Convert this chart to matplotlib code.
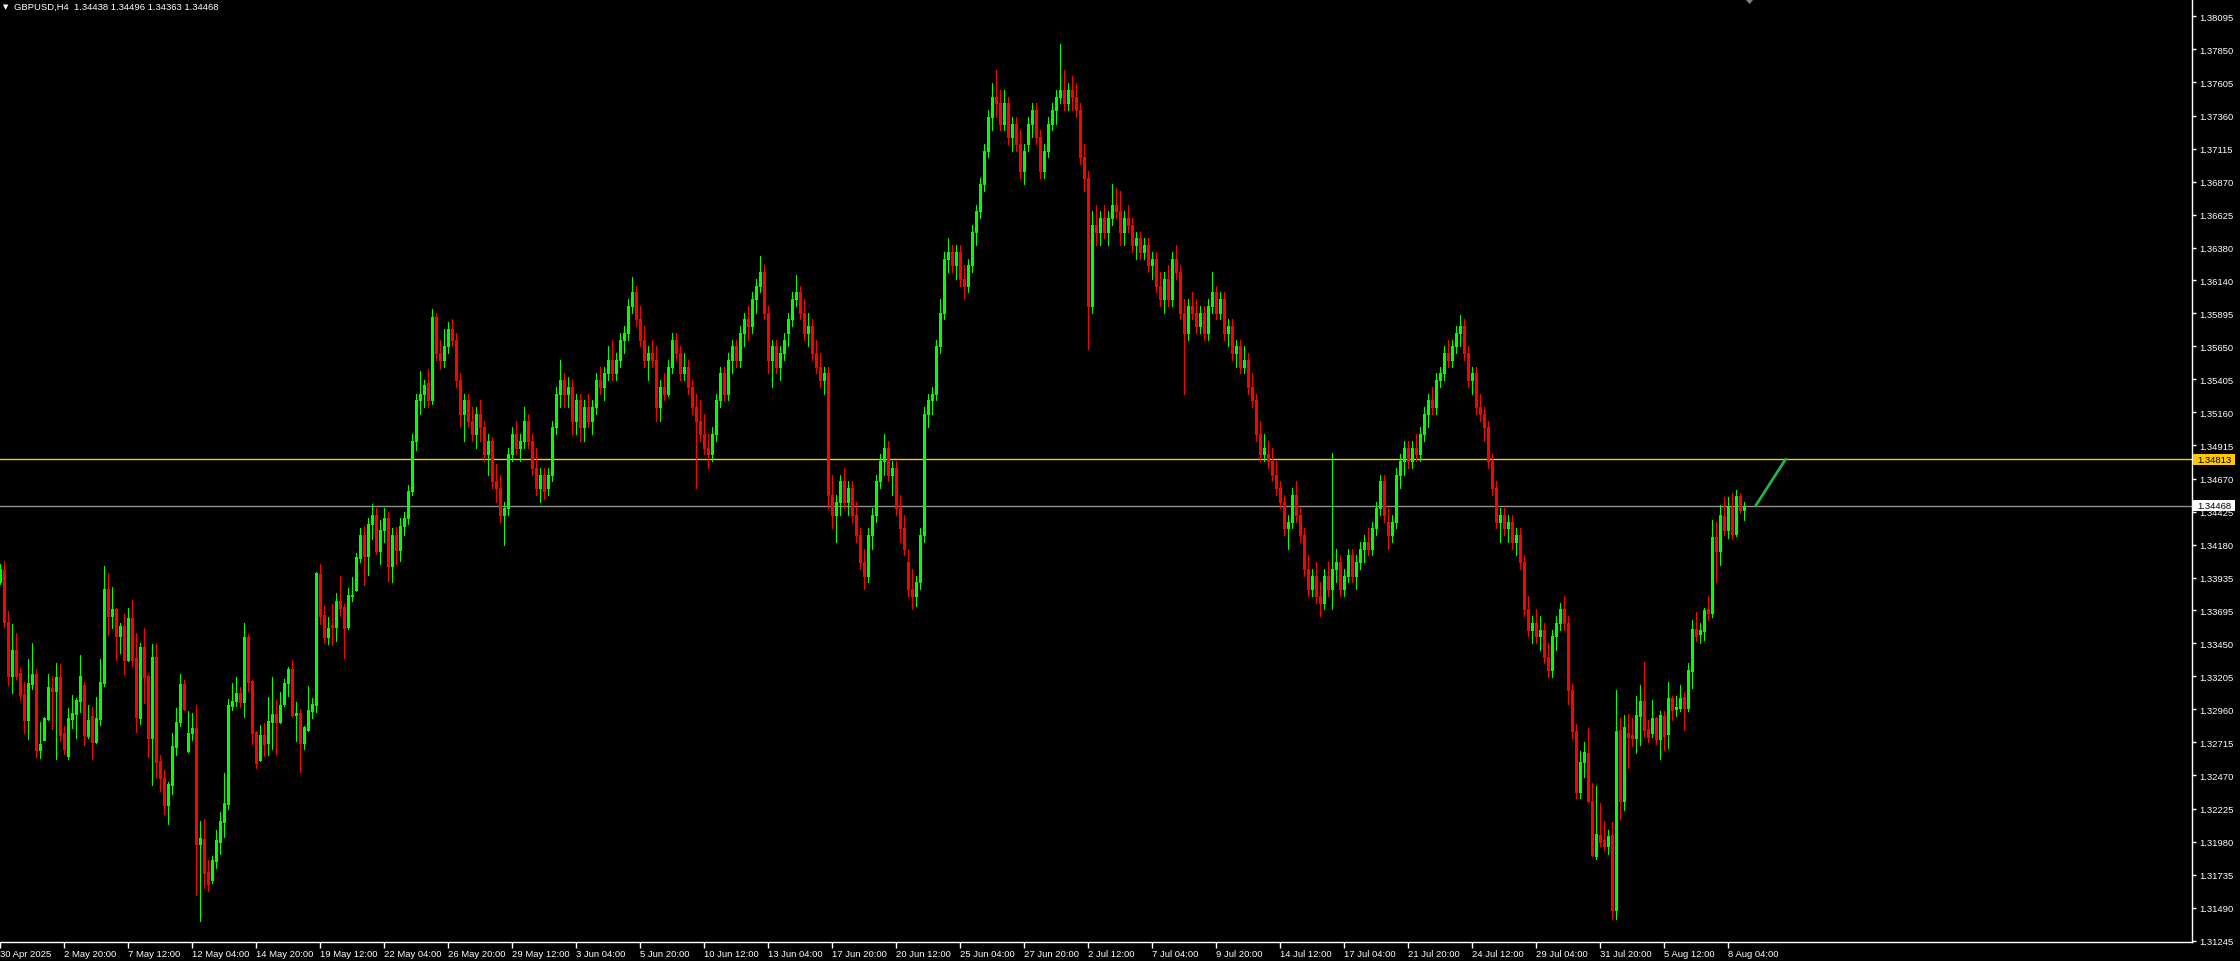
import matplotlib
matplotlib.use("Agg")
import matplotlib.pyplot as plt
from matplotlib.collections import LineCollection
from matplotlib.patches import Rectangle, Polygon

# ---------------- data ----------------
title_text = "GBPUSD,H4  1.34438 1.34496 1.34363 1.34468"

opens = [
 1.33906, 1.33992, 1.33605, 1.33209, 1.33400, 1.33229, 1.33074, 1.32881, 1.33150, 1.33222,
 1.32659, 1.32733, 1.32888, 1.33118, 1.33098, 1.33200, 1.32785, 1.32614, 1.32891, 1.32928,
 1.33022, 1.33140, 1.32765, 1.32911, 1.32718, 1.32888, 1.33158, 1.33852, 1.33652, 1.33703,
 1.33503, 1.33577, 1.33325, 1.33637, 1.33340, 1.32896, 1.33422, 1.33207, 1.32748, 1.33348,
 1.32577, 1.32451, 1.32251, 1.32400, 1.32681, 1.32866, 1.33148, 1.32651, 1.32785, 1.32822,
 1.31962, 1.31999, 1.31755, 1.31695, 1.31836, 1.31977, 1.32125, 1.32259, 1.32985, 1.33022,
 1.33081, 1.33014, 1.33496, 1.33170, 1.32792, 1.32584, 1.32770, 1.32710, 1.32866, 1.32925,
 1.32866, 1.32999, 1.33155, 1.33259, 1.32918, 1.32933, 1.32710, 1.32807, 1.32948, 1.32992,
 1.33963, 1.33659, 1.33496, 1.33585, 1.33570, 1.33763, 1.33718, 1.33570, 1.33800, 1.33844,
 1.34081, 1.34250, 1.34096, 1.34330, 1.34400, 1.34133, 1.34290, 1.34380, 1.34022, 1.34250,
 1.34141, 1.34320, 1.34380, 1.34580, 1.34950, 1.35250, 1.35300, 1.35380, 1.35250, 1.35870,
 1.35600, 1.35550, 1.35650, 1.35780, 1.35700, 1.35400, 1.35150, 1.35250, 1.35100, 1.35000,
 1.35150, 1.35050, 1.34850, 1.34950, 1.34650, 1.34600, 1.34400, 1.34450, 1.34850, 1.35000,
 1.34900, 1.34950, 1.35100, 1.34950, 1.34750, 1.34600, 1.34700, 1.34600, 1.34700, 1.35050,
 1.35300, 1.35400, 1.35300, 1.35350, 1.35100, 1.35250, 1.35050, 1.35200, 1.35100, 1.35200,
 1.35400, 1.35350, 1.35450, 1.35550, 1.35450, 1.35550, 1.35700, 1.35750, 1.35950, 1.36050,
 1.35850, 1.35700, 1.35550, 1.35600, 1.35550, 1.35200, 1.35350, 1.35300, 1.35500, 1.35700,
 1.35600, 1.35450, 1.35500, 1.35350, 1.35200, 1.35100, 1.35000, 1.34900, 1.34850, 1.35000,
 1.35250, 1.35450, 1.35300, 1.35550, 1.35650, 1.35550, 1.35750, 1.35850, 1.35800, 1.36000,
 1.36100, 1.36200, 1.35900, 1.35550, 1.35650, 1.35500, 1.35600, 1.35750, 1.35850, 1.36000,
 1.36050, 1.35900, 1.35750, 1.35800, 1.35600, 1.35500, 1.35400, 1.35450, 1.34550, 1.34400,
 1.34500, 1.34650, 1.34500, 1.34600, 1.34400, 1.34250, 1.34050, 1.33950, 1.34250, 1.34400,
 1.34650, 1.34800, 1.34900, 1.34700, 1.34750, 1.34450, 1.34300, 1.34050, 1.33850, 1.33800,
 1.33900, 1.34250, 1.35150, 1.35250, 1.35300, 1.35650, 1.35900, 1.36300, 1.36350, 1.36250,
 1.36350, 1.36150, 1.36100, 1.36250, 1.36500, 1.36650, 1.36850, 1.37100, 1.37350, 1.37500,
 1.37450, 1.37300, 1.37450, 1.37200, 1.37300, 1.37150, 1.36950, 1.37150, 1.37300, 1.37400,
 1.37200, 1.36950, 1.37100, 1.37300, 1.37400, 1.37500, 1.37550, 1.37450, 1.37550, 1.37500,
 1.37400, 1.37050, 1.36900, 1.35950, 1.36550, 1.36500, 1.36600, 1.36500, 1.36600, 1.36700,
 1.36650, 1.36500, 1.36600, 1.36550, 1.36400, 1.36450, 1.36350, 1.36400, 1.36250, 1.36300,
 1.36100, 1.36000, 1.36150, 1.36000, 1.36300, 1.36200, 1.35900, 1.35750, 1.35950, 1.35900,
 1.35800, 1.35900, 1.35750, 1.35950, 1.36050, 1.35900, 1.36000, 1.35750, 1.35800, 1.35600,
 1.35650, 1.35500, 1.35550, 1.35350, 1.35250, 1.35000, 1.34850, 1.34850, 1.34800, 1.34700,
 1.34600, 1.34500, 1.34300, 1.34350, 1.34550, 1.34400, 1.34250, 1.34000, 1.33850, 1.33950,
 1.33800, 1.33750, 1.33950, 1.33850, 1.34000, 1.34050, 1.33850, 1.33950, 1.34100, 1.33950,
 1.34050, 1.34150, 1.34200, 1.34150, 1.34300, 1.34450, 1.34650, 1.34350, 1.34250, 1.34350,
 1.34700, 1.34800, 1.34900, 1.34800, 1.34900, 1.34850, 1.35000, 1.35150, 1.35250, 1.35200,
 1.35400, 1.35450, 1.35600, 1.35550, 1.35650, 1.35750, 1.35800, 1.35600, 1.35400, 1.35450,
 1.35200, 1.35150, 1.35050, 1.34800, 1.34600, 1.34350, 1.34400, 1.34300, 1.34350, 1.34200,
 1.34250, 1.34050, 1.33700, 1.33550, 1.33600, 1.33500, 1.33550, 1.33350, 1.33250, 1.33500,
 1.33600, 1.33700, 1.33600, 1.33100, 1.32800, 1.32350, 1.32572, 1.32636, 1.32283, 1.31875,
 1.32028, 1.31991, 1.31949, 1.32028, 1.31475, 1.32804, 1.32280, 1.32784, 1.32769, 1.32747,
 1.32913, 1.33021, 1.32814, 1.32784, 1.32895, 1.32740, 1.32910, 1.32777, 1.33044, 1.32962,
 1.32970, 1.33051, 1.32970, 1.33244, 1.33555, 1.33518, 1.33540, 1.33703, 1.33674, 1.34240,
 1.34130, 1.34392, 1.34290, 1.34459, 1.34259, 1.34540, 1.34438]

highs = [
 1.34040, 1.34059, 1.33689, 1.33592, 1.33526, 1.33266, 1.33160, 1.33333, 1.33451, 1.33259,
 1.32866, 1.32900, 1.33222, 1.33209, 1.33303, 1.33296, 1.32839, 1.32970, 1.33066, 1.33044,
 1.33363, 1.33160, 1.32992, 1.32977, 1.33051, 1.33333, 1.34022, 1.33970, 1.33866, 1.33710,
 1.33600, 1.33666, 1.33711, 1.33770, 1.33526, 1.33451, 1.33563, 1.33222, 1.33444, 1.33451,
 1.32622, 1.32510, 1.32421, 1.32785, 1.32970, 1.33222, 1.33177, 1.32948, 1.32933, 1.32992,
 1.32132, 1.32147, 1.31843, 1.31873, 1.32066, 1.32199, 1.32488, 1.33036, 1.33155, 1.33200,
 1.33125, 1.33600, 1.33518, 1.33175, 1.32799, 1.32844, 1.32859, 1.33051, 1.33200, 1.33029,
 1.33088, 1.33185, 1.33274, 1.33325, 1.33014, 1.32962, 1.32836, 1.33133, 1.33044, 1.33975,
 1.34037, 1.33726, 1.33644, 1.33740, 1.33822, 1.33948, 1.33740, 1.33859, 1.33941, 1.34118,
 1.34300, 1.34320, 1.34380, 1.34480, 1.34450, 1.34360, 1.34450, 1.34420, 1.34300, 1.34310,
 1.34380, 1.34420, 1.34620, 1.35000, 1.35300, 1.35470, 1.35400, 1.35480, 1.35926, 1.35900,
 1.35700, 1.35780, 1.35830, 1.35850, 1.35750, 1.35450, 1.35300, 1.35300, 1.35200, 1.35200,
 1.35250, 1.35100, 1.35000, 1.34980, 1.34780, 1.34700, 1.34500, 1.34900, 1.35050, 1.35100,
 1.35000, 1.35200, 1.35150, 1.35000, 1.34900, 1.34750, 1.34750, 1.34750, 1.35100, 1.35350,
 1.35550, 1.35450, 1.35420, 1.35400, 1.35300, 1.35300, 1.35250, 1.35300, 1.35250, 1.35450,
 1.35500, 1.35500, 1.35650, 1.35700, 1.35600, 1.35750, 1.35800, 1.36000, 1.36160, 1.36100,
 1.35950, 1.35800, 1.35650, 1.35700, 1.35650, 1.35400, 1.35450, 1.35550, 1.35750, 1.35750,
 1.35650, 1.35600, 1.35550, 1.35400, 1.35300, 1.35250, 1.35150, 1.35000, 1.35050, 1.35300,
 1.35500, 1.35500, 1.35600, 1.35700, 1.35700, 1.35800, 1.35900, 1.35950, 1.36050, 1.36150,
 1.36320, 1.36250, 1.35950, 1.35700, 1.35700, 1.35650, 1.35750, 1.35900, 1.36050, 1.36180,
 1.36100, 1.36000, 1.35900, 1.35850, 1.35700, 1.35600, 1.35500, 1.35500, 1.34700, 1.34550,
 1.34700, 1.34750, 1.34650, 1.34650, 1.34500, 1.34300, 1.34150, 1.34300, 1.34450, 1.34700,
 1.34850, 1.35000, 1.34950, 1.34800, 1.34800, 1.34550, 1.34400, 1.34150, 1.34000, 1.33950,
 1.34300, 1.35200, 1.35300, 1.35350, 1.35700, 1.36000, 1.36350, 1.36450, 1.36400, 1.36400,
 1.36400, 1.36250, 1.36300, 1.36550, 1.36700, 1.36900, 1.37150, 1.37400, 1.37600, 1.37700,
 1.37550, 1.37550, 1.37500, 1.37350, 1.37350, 1.37250, 1.37150, 1.37350, 1.37450, 1.37450,
 1.37250, 1.37150, 1.37350, 1.37450, 1.37550, 1.37890, 1.37700, 1.37600, 1.37650, 1.37600,
 1.37450, 1.37150, 1.36950, 1.36650, 1.36700, 1.36650, 1.36700, 1.36650, 1.36850, 1.36820,
 1.36800, 1.36650, 1.36700, 1.36600, 1.36500, 1.36500, 1.36450, 1.36450, 1.36350, 1.36350,
 1.36200, 1.36200, 1.36250, 1.36350, 1.36400, 1.36250, 1.36000, 1.36000, 1.36050, 1.36000,
 1.35950, 1.35950, 1.36000, 1.36200, 1.36100, 1.36050, 1.36050, 1.35850, 1.35850, 1.35700,
 1.35700, 1.35650, 1.35600, 1.35450, 1.35300, 1.35100, 1.35000, 1.34950, 1.34900, 1.34800,
 1.34650, 1.34550, 1.34400, 1.34600, 1.34650, 1.34450, 1.34300, 1.34100, 1.34000, 1.34050,
 1.33900, 1.34000, 1.34050, 1.34860, 1.34150, 1.34100, 1.34000, 1.34150, 1.34150, 1.34100,
 1.34200, 1.34250, 1.34300, 1.34350, 1.34500, 1.34700, 1.34700, 1.34450, 1.34400, 1.34750,
 1.34850, 1.34950, 1.34950, 1.34950, 1.35000, 1.35050, 1.35200, 1.35300, 1.35350, 1.35450,
 1.35500, 1.35650, 1.35700, 1.35700, 1.35800, 1.35880, 1.35850, 1.35650, 1.35500, 1.35500,
 1.35300, 1.35200, 1.35100, 1.34850, 1.34650, 1.34450, 1.34450, 1.34400, 1.34400, 1.34300,
 1.34300, 1.34100, 1.33800, 1.33650, 1.33700, 1.33650, 1.33600, 1.33450, 1.33550, 1.33650,
 1.33750, 1.33800, 1.33650, 1.33150, 1.32850, 1.32650, 1.32718, 1.32821, 1.32414, 1.32389,
 1.32266, 1.32132, 1.32068, 1.32125, 1.33103, 1.32895, 1.32918, 1.32925, 1.32895, 1.33058,
 1.33140, 1.33310, 1.32878, 1.33029, 1.32900, 1.32947, 1.32947, 1.33162, 1.33058, 1.33058,
 1.33140, 1.33088, 1.33303, 1.33622, 1.33681, 1.33599, 1.33711, 1.33799, 1.34363, 1.34345,
 1.34474, 1.34533, 1.34533, 1.34563, 1.34585, 1.34563, 1.34496]

lows = [
 1.33890, 1.33572, 1.33143, 1.33083, 1.33185, 1.33032, 1.32787, 1.32743, 1.33111, 1.32609,
 1.32599, 1.32730, 1.32880, 1.32814, 1.32592, 1.32723, 1.32631, 1.32592, 1.32822, 1.32748,
 1.32943, 1.32698, 1.32750, 1.32592, 1.32710, 1.32844, 1.33135, 1.33511, 1.33563, 1.33325,
 1.33377, 1.33222, 1.33318, 1.33281, 1.32792, 1.32851, 1.33007, 1.32607, 1.32399, 1.32451,
 1.32355, 1.32184, 1.32110, 1.32333, 1.32622, 1.32836, 1.32955, 1.32645, 1.32733, 1.31584,
 1.31391, 1.31636, 1.31614, 1.31673, 1.31784, 1.31888, 1.32014, 1.32221, 1.32955, 1.32985,
 1.32977, 1.32903, 1.33096, 1.32703, 1.32525, 1.32580, 1.32614, 1.32622, 1.32666, 1.32629,
 1.32860, 1.32985, 1.33059, 1.32903, 1.32725, 1.32496, 1.32666, 1.32799, 1.32896, 1.32940,
 1.33592, 1.33451, 1.33444, 1.33437, 1.33466, 1.33652, 1.33340, 1.33555, 1.33763, 1.33840,
 1.34050, 1.33881, 1.33955, 1.34220, 1.34111, 1.34037, 1.34200, 1.33911, 1.33903, 1.34037,
 1.34059, 1.34250, 1.34330, 1.34550, 1.34880, 1.35150, 1.35200, 1.35200, 1.35220, 1.35550,
 1.35480, 1.35500, 1.35600, 1.35650, 1.35350, 1.35050, 1.34950, 1.35050, 1.34950, 1.34900,
 1.34950, 1.34800, 1.34700, 1.34600, 1.34500, 1.34350, 1.34180, 1.34400, 1.34800, 1.34850,
 1.34800, 1.34900, 1.34900, 1.34700, 1.34550, 1.34500, 1.34520, 1.34550, 1.34650, 1.35000,
 1.35200, 1.35200, 1.35200, 1.35000, 1.35000, 1.34950, 1.34950, 1.35050, 1.35000, 1.35150,
 1.35300, 1.35250, 1.35400, 1.35400, 1.35400, 1.35500, 1.35600, 1.35700, 1.35900, 1.35800,
 1.35650, 1.35500, 1.35400, 1.35500, 1.35100, 1.35100, 1.35250, 1.35280, 1.35450, 1.35550,
 1.35400, 1.35400, 1.35300, 1.35150, 1.34600, 1.34950, 1.34850, 1.34750, 1.34800, 1.34950,
 1.35200, 1.35250, 1.35250, 1.35450, 1.35500, 1.35500, 1.35650, 1.35700, 1.35750, 1.35900,
 1.36050, 1.35850, 1.35450, 1.35350, 1.35450, 1.35400, 1.35550, 1.35650, 1.35800, 1.35950,
 1.35850, 1.35700, 1.35650, 1.35550, 1.35450, 1.35350, 1.35300, 1.34450, 1.34300, 1.34200,
 1.34400, 1.34450, 1.34400, 1.34350, 1.34200, 1.34000, 1.33850, 1.33900, 1.34150, 1.34350,
 1.34600, 1.34700, 1.34650, 1.34550, 1.34400, 1.34200, 1.34100, 1.33800, 1.33700, 1.33725,
 1.33850, 1.34200, 1.35050, 1.35150, 1.35250, 1.35600, 1.35850, 1.36200, 1.36200, 1.36150,
 1.36100, 1.36000, 1.36050, 1.36200, 1.36400, 1.36600, 1.36800, 1.37050, 1.37250, 1.37350,
 1.37250, 1.37250, 1.37150, 1.37100, 1.37100, 1.36900, 1.36850, 1.37100, 1.37200, 1.37150,
 1.36900, 1.36900, 1.37050, 1.37250, 1.37300, 1.37450, 1.37400, 1.37400, 1.37400, 1.37350,
 1.37000, 1.36800, 1.35630, 1.35900, 1.36400, 1.36400, 1.36450, 1.36400, 1.36550, 1.36600,
 1.36400, 1.36400, 1.36500, 1.36350, 1.36300, 1.36300, 1.36300, 1.36200, 1.36150, 1.36050,
 1.35950, 1.35900, 1.35950, 1.35950, 1.36150, 1.35850, 1.35300, 1.35700, 1.35850, 1.35750,
 1.35750, 1.35700, 1.35700, 1.35900, 1.35850, 1.35850, 1.35700, 1.35650, 1.35550, 1.35500,
 1.35450, 1.35450, 1.35300, 1.35200, 1.34950, 1.34800, 1.34800, 1.34750, 1.34650, 1.34550,
 1.34450, 1.34250, 1.34150, 1.34300, 1.34350, 1.34200, 1.33950, 1.33800, 1.33800, 1.33750,
 1.33650, 1.33700, 1.33800, 1.33700, 1.33900, 1.33800, 1.33800, 1.33900, 1.33900, 1.33850,
 1.34000, 1.34050, 1.34100, 1.34100, 1.34250, 1.34400, 1.34350, 1.34150, 1.34200, 1.34300,
 1.34600, 1.34700, 1.34750, 1.34750, 1.34800, 1.34800, 1.34950, 1.35050, 1.35150, 1.35150,
 1.35350, 1.35400, 1.35500, 1.35500, 1.35600, 1.35650, 1.35550, 1.35350, 1.35300, 1.35150,
 1.35100, 1.34950, 1.34750, 1.34550, 1.34300, 1.34200, 1.34250, 1.34200, 1.34150, 1.34100,
 1.34000, 1.33650, 1.33500, 1.33450, 1.33450, 1.33400, 1.33300, 1.33200, 1.33200, 1.33400,
 1.33550, 1.33550, 1.33000, 1.32750, 1.32300, 1.32300, 1.32456, 1.32275, 1.31875, 1.31851,
 1.31949, 1.31917, 1.31890, 1.31406, 1.31406, 1.32147, 1.32214, 1.32525, 1.32688, 1.32636,
 1.32695, 1.32757, 1.32718, 1.32755, 1.32703, 1.32592, 1.32658, 1.32673, 1.32881, 1.32910,
 1.32947, 1.32806, 1.32947, 1.33118, 1.33466, 1.33451, 1.33473, 1.33622, 1.33643, 1.33903,
 1.34029, 1.34250, 1.34230, 1.34220, 1.34246, 1.34418, 1.34363]

closes = [
 1.34000, 1.33605, 1.33209, 1.33400, 1.33209, 1.33069, 1.32881, 1.33155, 1.33222, 1.32659,
 1.32703, 1.32896, 1.33125, 1.33098, 1.33200, 1.32772, 1.32666, 1.32896, 1.32933, 1.33032,
 1.33207, 1.32772, 1.32881, 1.32718, 1.32896, 1.33162, 1.33852, 1.33652, 1.33703, 1.33503,
 1.33577, 1.33325, 1.33637, 1.33325, 1.32903, 1.33422, 1.33200, 1.32748, 1.33348, 1.32570,
 1.32451, 1.32251, 1.32407, 1.32688, 1.32866, 1.33148, 1.32962, 1.32785, 1.32822, 1.31962,
 1.32007, 1.31747, 1.31666, 1.31843, 1.31992, 1.32132, 1.32266, 1.32992, 1.33022, 1.33081,
 1.33014, 1.33496, 1.33162, 1.32785, 1.32562, 1.32770, 1.32703, 1.32873, 1.32925, 1.32866,
 1.32992, 1.33155, 1.33259, 1.32918, 1.32933, 1.32710, 1.32829, 1.32955, 1.32999, 1.33970,
 1.33652, 1.33496, 1.33563, 1.33570, 1.33763, 1.33711, 1.33563, 1.33807, 1.33807, 1.34089,
 1.34250, 1.34096, 1.34330, 1.34400, 1.34133, 1.34290, 1.34380, 1.34022, 1.34250, 1.34141,
 1.34320, 1.34380, 1.34580, 1.34950, 1.35250, 1.35300, 1.35360, 1.35250, 1.35870, 1.35600,
 1.35550, 1.35650, 1.35780, 1.35700, 1.35400, 1.35150, 1.35250, 1.35100, 1.35000, 1.35150,
 1.35050, 1.34850, 1.34950, 1.34650, 1.34600, 1.34400, 1.34450, 1.34850, 1.35000, 1.34900,
 1.34950, 1.35100, 1.34950, 1.34750, 1.34600, 1.34700, 1.34580, 1.34700, 1.35050, 1.35300,
 1.35400, 1.35300, 1.35350, 1.35100, 1.35250, 1.35050, 1.35200, 1.35100, 1.35200, 1.35400,
 1.35350, 1.35450, 1.35550, 1.35450, 1.35550, 1.35700, 1.35750, 1.35950, 1.36050, 1.35850,
 1.35700, 1.35550, 1.35600, 1.35550, 1.35200, 1.35350, 1.35300, 1.35500, 1.35700, 1.35600,
 1.35450, 1.35500, 1.35350, 1.35200, 1.35100, 1.35000, 1.34900, 1.34850, 1.35000, 1.35250,
 1.35450, 1.35300, 1.35550, 1.35650, 1.35550, 1.35750, 1.35850, 1.35800, 1.36000, 1.36100,
 1.36200, 1.35900, 1.35550, 1.35650, 1.35500, 1.35600, 1.35700, 1.35850, 1.36000, 1.36050,
 1.35900, 1.35750, 1.35800, 1.35600, 1.35500, 1.35400, 1.35450, 1.34550, 1.34400, 1.34500,
 1.34650, 1.34500, 1.34600, 1.34400, 1.34250, 1.34050, 1.33950, 1.34250, 1.34400, 1.34650,
 1.34800, 1.34900, 1.34700, 1.34750, 1.34450, 1.34300, 1.34150, 1.33850, 1.33800, 1.33900,
 1.34250, 1.35150, 1.35250, 1.35300, 1.35650, 1.35900, 1.36300, 1.36350, 1.36250, 1.36350,
 1.36150, 1.36100, 1.36250, 1.36500, 1.36650, 1.36850, 1.37100, 1.37350, 1.37500, 1.37450,
 1.37300, 1.37450, 1.37200, 1.37300, 1.37150, 1.36950, 1.37100, 1.37300, 1.37400, 1.37200,
 1.36950, 1.37100, 1.37300, 1.37400, 1.37500, 1.37550, 1.37450, 1.37550, 1.37500, 1.37400,
 1.37050, 1.36900, 1.35950, 1.36550, 1.36500, 1.36600, 1.36500, 1.36600, 1.36700, 1.36650,
 1.36500, 1.36600, 1.36550, 1.36400, 1.36450, 1.36350, 1.36400, 1.36250, 1.36300, 1.36100,
 1.36000, 1.36150, 1.36000, 1.36300, 1.36200, 1.35900, 1.35750, 1.35950, 1.35900, 1.35800,
 1.35900, 1.35750, 1.35950, 1.36050, 1.35900, 1.36000, 1.35750, 1.35800, 1.35600, 1.35650,
 1.35500, 1.35550, 1.35350, 1.35250, 1.35000, 1.34850, 1.34900, 1.34800, 1.34700, 1.34600,
 1.34500, 1.34300, 1.34350, 1.34550, 1.34400, 1.34250, 1.34000, 1.33850, 1.33950, 1.33800,
 1.33750, 1.33950, 1.33850, 1.34000, 1.34050, 1.33850, 1.33950, 1.34100, 1.33950, 1.34050,
 1.34150, 1.34200, 1.34150, 1.34300, 1.34450, 1.34650, 1.34400, 1.34250, 1.34350, 1.34700,
 1.34800, 1.34900, 1.34800, 1.34900, 1.34850, 1.35000, 1.35150, 1.35250, 1.35200, 1.35400,
 1.35450, 1.35600, 1.35550, 1.35650, 1.35750, 1.35800, 1.35600, 1.35400, 1.35450, 1.35200,
 1.35150, 1.35050, 1.34800, 1.34600, 1.34350, 1.34400, 1.34300, 1.34350, 1.34200, 1.34250,
 1.34050, 1.33700, 1.33550, 1.33600, 1.33500, 1.33550, 1.33350, 1.33250, 1.33500, 1.33600,
 1.33700, 1.33600, 1.33100, 1.32800, 1.32350, 1.32572, 1.32641, 1.32283, 1.31883, 1.32033,
 1.31979, 1.31949, 1.32018, 1.31475, 1.32799, 1.32280, 1.32826, 1.32757, 1.32747, 1.32918,
 1.33021, 1.32806, 1.32757, 1.32895, 1.32740, 1.32918, 1.32762, 1.33044, 1.32955, 1.32977,
 1.33044, 1.32970, 1.33251, 1.33555, 1.33503, 1.33548, 1.33696, 1.33674, 1.34240, 1.34130,
 1.34400, 1.34290, 1.34464, 1.34260, 1.34540, 1.34436, 1.34468]

time_labels = ["30 Apr 2025", "2 May 20:00", "7 May 12:00", "12 May 04:00", "14 May 20:00",
               "19 May 12:00", "22 May 04:00", "26 May 20:00", "29 May 12:00", "3 Jun 04:00",
               "5 Jun 20:00", "10 Jun 12:00", "13 Jun 04:00", "17 Jun 20:00", "20 Jun 12:00",
               "25 Jun 04:00", "27 Jun 20:00", "2 Jul 12:00", "7 Jul 04:00", "9 Jul 20:00",
               "14 Jul 12:00", "17 Jul 04:00", "21 Jul 20:00", "24 Jul 12:00", "29 Jul 04:00",
               "31 Jul 20:00", "5 Aug 12:00", "8 Aug 04:00"]
bars_per_label = 16

price_ticks = [1.31245, 1.31490, 1.31735, 1.31980, 1.32225, 1.32470, 1.32715, 1.32960,
               1.33205, 1.33450, 1.33695, 1.33935, 1.34180, 1.34425, 1.34670, 1.34915,
               1.35160, 1.35405, 1.35650, 1.35895, 1.36140, 1.36380, 1.36625, 1.36870,
               1.37115, 1.37360, 1.37605, 1.37850, 1.38095]

level_line = 1.34813
bid_price = 1.34468
trend_bars = [439.0, 446.5]
trend_prices = [1.34468, 1.34813]
shift_marker_bar = 437.5

# ---------------- styling ----------------
W, H = 2240, 962
BULL = "#00ff00"
BEAR = "#ff0000"
FONT = ["Liberation Sans", "DejaVu Sans"]
FS = 6.8
PX = 72.0 / 100.0  # points per pixel

plt.rcParams["font.family"] = FONT

fig = plt.figure(figsize=(W / 100, H / 100), dpi=100, facecolor="black")
plot_left_px, plot_right_px, plot_top_px, plot_bottom_px = 0, 2192, 1, 943
ax = fig.add_axes([plot_left_px / W, (H - plot_bottom_px) / H,
                   (plot_right_px - plot_left_px) / W, (plot_bottom_px - plot_top_px) / H])
ax.set_facecolor("black")

bar_px = 4.0
x0 = 0.125
ax.set_xlim(x0, x0 + (plot_right_px - plot_left_px) / bar_px)
ymin, ymax = 1.31236, 1.38216
ax.set_ylim(ymin, ymax)

px_price = (ymax - ymin) / (plot_bottom_px - plot_top_px)

n = min(len(opens), len(highs), len(lows), len(closes))
wick_segs, wick_cols, body_segs, body_cols = [], [], [], []
for i in range(n):
    o, h, l, c = opens[i], highs[i], lows[i], closes[i]
    col = BULL if c >= o else BEAR
    wick_segs.append([(i, l), (i, h)])
    wick_cols.append(col)
    lo, hi = min(o, c), max(o, c)
    if hi - lo < px_price:
        mid = (hi + lo) / 2
        lo, hi = mid - px_price / 2, mid + px_price / 2
    body_segs.append([(i, lo), (i, hi)])
    body_cols.append(col)

ax.add_collection(LineCollection(wick_segs, colors=wick_cols, linewidths=1 * PX,
                                 capstyle="butt", antialiased=False, zorder=3))
ax.add_collection(LineCollection(body_segs, colors=body_cols, linewidths=3 * PX,
                                 capstyle="butt", antialiased=False, zorder=4))

# horizontal levels
ax.axhline(level_line, color="#ffc800", lw=1.4 * PX, zorder=2)
ax.axhline(bid_price, color="#909090", lw=1.4 * PX, zorder=2)
# trend line
ax.plot(trend_bars, trend_prices, color="#22b14c", lw=2.8 * PX, zorder=5,
        solid_capstyle="round")

# spines
for side in ["left", "top"]:
    ax.spines[side].set_visible(False)
for side in ["right", "bottom"]:
    ax.spines[side].set_color("white")
    ax.spines[side].set_linewidth(1.4 * PX)

# y ticks on right
ax.yaxis.tick_right()
ax.set_yticks(price_ticks)
ax.set_yticklabels([f"{p:.5f}" for p in price_ticks])
ax.tick_params(axis="y", colors="white", length=3 * PX * 1.4, width=1.4 * PX,
               pad=2, labelsize=FS, labelcolor="white")

# x ticks
xt = [k * bars_per_label for k in range(len(time_labels))]
ax.set_xticks(xt)
ax.set_xticklabels(time_labels)
ax.tick_params(axis="x", colors="white", length=4 * PX * 1.4, width=1.4 * PX,
               pad=1, labelsize=FS, labelcolor="white")
for t in ax.get_xticklabels():
    t.set_horizontalalignment("left")

# price boxes on the right axis
def price_box(price, face, txt):
    y = (price - ymin) / (ymax - ymin)
    ax.add_patch(Rectangle((1.0005, y - 5.5 / 942), 42 / 2192, 11 / 942,
                           transform=ax.transAxes, facecolor=face, edgecolor="none",
                           clip_on=False, zorder=10))
    ax.text(1.0005 + 4.5 / 2192, y, txt, transform=ax.transAxes, color="black",
            fontsize=FS, ha="left", va="center", clip_on=False, zorder=11)

price_box(level_line, "#ffc800", f"{level_line:.5f}")
price_box(bid_price, "white", f"{bid_price:.5f}")

# title
fig.text(3 / W, 1 - 7 / H, "\u25bc", color="white", fontsize=5, family="DejaVu Sans",
         ha="left", va="center")
fig.text(14 / W, 1 - 7 / H, title_text, color="white", fontsize=FS, ha="left", va="center")

# chart shift marker at top
mx_px = (shift_marker_bar - x0) * bar_px
fig.patches.append(Polygon([((mx_px - 4) / W, 1 - 0.5 / H), ((mx_px + 4) / W, 1 - 0.5 / H),
                            (mx_px / W, 1 - 5 / H)], closed=True, transform=fig.transFigure,
                           facecolor="#808080", edgecolor="none", figure=fig))

fig.savefig("out.png", dpi=100, facecolor="black")
